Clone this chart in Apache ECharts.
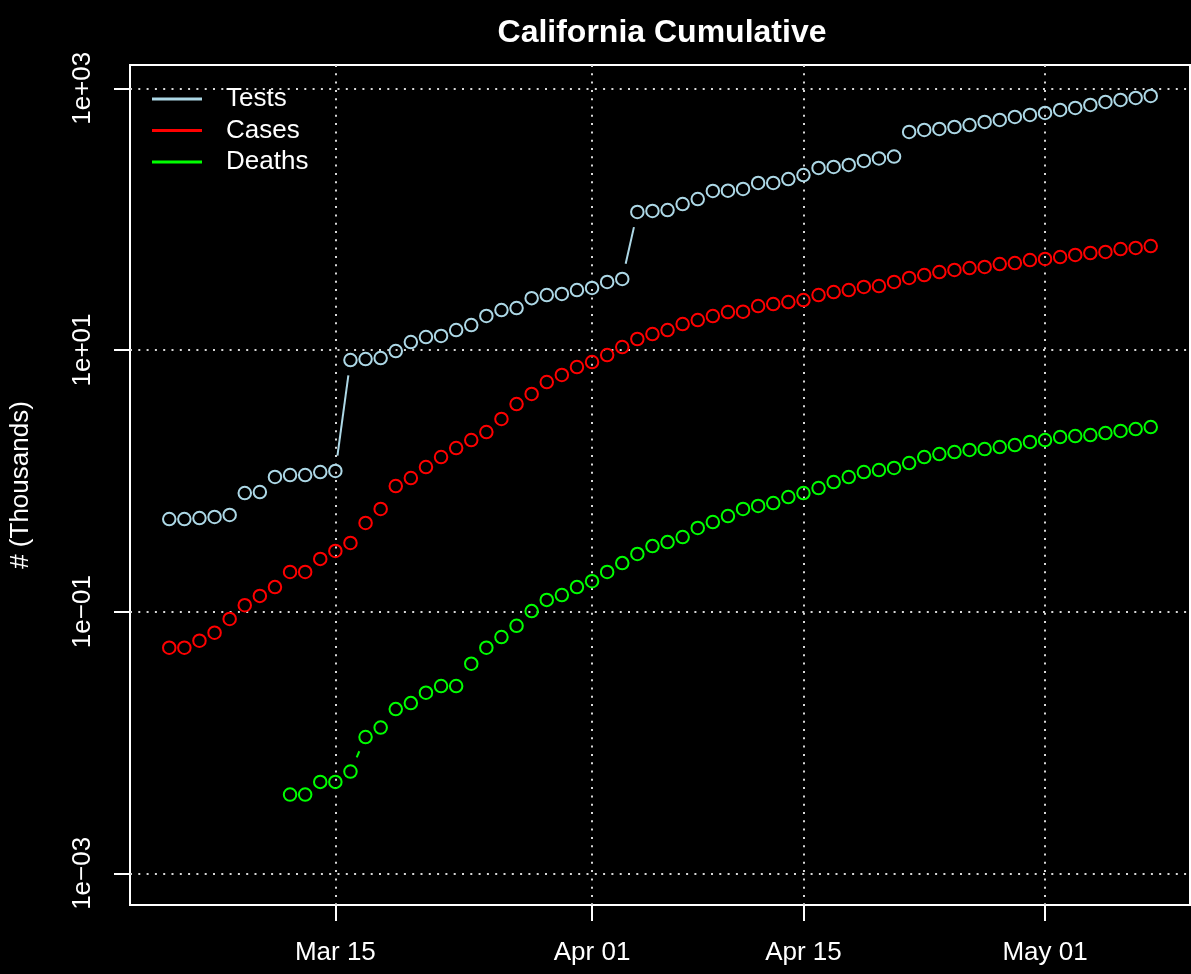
<!DOCTYPE html>
<html>
<head>
<meta charset="utf-8">
<title>California Cumulative</title>
<script src="https://cdn.jsdelivr.net/npm/echarts@6/dist/echarts.min.js"></script>
<style>
html, body { margin: 0; padding: 0; background: #000; }
#main { width: 1191px; height: 974px; }
</style>
</head>
<body>
<div id="main"></div>
<script>
// daily values, in thousands
var days = [
    '2020-03-04', '2020-03-05', '2020-03-06', '2020-03-07', '2020-03-08', '2020-03-09', '2020-03-10', '2020-03-11',
    '2020-03-12', '2020-03-13', '2020-03-14', '2020-03-15', '2020-03-16', '2020-03-17', '2020-03-18', '2020-03-19',
    '2020-03-20', '2020-03-21', '2020-03-22', '2020-03-23', '2020-03-24', '2020-03-25', '2020-03-26', '2020-03-27',
    '2020-03-28', '2020-03-29', '2020-03-30', '2020-03-31', '2020-04-01', '2020-04-02', '2020-04-03', '2020-04-04',
    '2020-04-05', '2020-04-06', '2020-04-07', '2020-04-08', '2020-04-09', '2020-04-10', '2020-04-11', '2020-04-12',
    '2020-04-13', '2020-04-14', '2020-04-15', '2020-04-16', '2020-04-17', '2020-04-18', '2020-04-19', '2020-04-20',
    '2020-04-21', '2020-04-22', '2020-04-23', '2020-04-24', '2020-04-25', '2020-04-26', '2020-04-27', '2020-04-28',
    '2020-04-29', '2020-04-30', '2020-05-01', '2020-05-02', '2020-05-03', '2020-05-04', '2020-05-05', '2020-05-06',
    '2020-05-07', '2020-05-08'
];

var tests = [
    0.510, 0.510, 0.519, 0.529, 0.548, 0.806, 0.821, 1.07, 1.107, 1.107, 1.167, 1.19,
    8.38, 8.53, 8.68, 9.82, 11.5, 12.56, 12.79, 14.2, 15.5, 18.2, 20.2, 20.9, 24.9, 26.3, 26.8, 28.7,
    29.8, 33.1, 34.9, 113.4, 115.4, 117.4, 130.5, 142.5, 164.1, 165, 170, 188.9, 188.9, 202.6, 217.4,
    246, 250.3, 259.3, 278.2, 290.7, 301, 463.5, 480, 488.6, 506, 524, 552.6, 572.4, 603.5, 625,
    647.5, 682.6, 707, 745.5, 786, 814, 843, 873.4
];

var cases = [
    0.053, 0.053, 0.060, 0.069, 0.088, 0.112, 0.132, 0.154, 0.201, 0.201, 0.253, 0.291,
    0.335, 0.476, 0.609, 0.912, 1.05, 1.275, 1.52, 1.78, 2.05, 2.36, 2.97, 3.86, 4.61, 5.69, 6.44, 7.41,
    8.09, 9.15, 10.53, 12.13, 13.24, 14.2, 15.79, 16.93, 18.18, 19.5, 19.6, 21.68, 22.45, 23.26, 24.09,
    26.3, 27.7, 28.7, 30.3, 30.8, 33.1, 35.5, 37.4, 39.4, 40.9, 42.3, 43.1, 45.4, 46.2, 48.7,
    49.6, 51.3, 53.2, 55.1, 56.1, 59.1, 60.2, 62.3
];

var deaths = [
    null, null, null, null, null, null, null, null, 0.004, 0.004, 0.005, 0.005,
    0.006, 0.011, 0.013, 0.018, 0.020, 0.024, 0.027, 0.027, 0.040, 0.053, 0.064, 0.078, 0.101, 0.123, 0.134, 0.154,
    0.171, 0.201, 0.235, 0.276, 0.317, 0.340, 0.372, 0.436, 0.484, 0.538, 0.609, 0.642, 0.676, 0.752, 0.806,
    0.881, 0.979, 1.069, 1.167, 1.209, 1.253, 1.368, 1.52, 1.602, 1.66, 1.72, 1.75, 1.813, 1.878, 1.98,
    2.05, 2.161, 2.2, 2.239, 2.319, 2.403, 2.488, 2.577
];

var seriesNames = ['Tests', 'Cases', 'Deaths'];
var seriesColors = ['#add8e6', '#ff0000', '#00ff00'];

var xTickDays = ['2020-03-15', '2020-04-01', '2020-04-15', '2020-05-01'];
var xTickLabels = ['Mar 15', 'Apr 01', 'Apr 15', 'May 01'];
var yTicks = [0.001, 0.1, 10, 1000];
var yTickLabels = ['1e\u221203', '1e\u221201', '1e+01', '1e+03'];

var DAY = 86400000;
var FONT = '"Liberation Sans", Arial, Helvetica, sans-serif';

function toTime(s) {
    var p = s.split('-');
    return new Date(+p[0], +p[1] - 1, +p[2]).getTime();
}

var times = days.map(toTime);
var xTickTimes = xTickDays.map(toTime);
// R pads the range by 4% on each side
var xPad = (times[times.length - 1] - times[0]) * 0.04;

function points(vals) {
    var out = [];
    for (var i = 0; i < vals.length; i++) {
        if (vals[i] != null) out.push([times[i], vals[i]]);
    }
    return out;
}

function segments(vals) {
    var out = [];
    for (var i = 1; i < vals.length; i++) {
        if (vals[i - 1] != null && vals[i] != null) {
            out.push([times[i - 1], vals[i - 1], times[i], vals[i]]);
        }
    }
    return out;
}

// type="b": line pieces only show where points are far apart
var GAP = 15.5;
function segmentRenderer(color) {
    return function (params, api) {
        var a = api.coord([api.value(0), api.value(1)]);
        var b = api.coord([api.value(2), api.value(3)]);
        var dx = b[0] - a[0], dy = b[1] - a[1];
        var len = Math.sqrt(dx * dx + dy * dy);
        if (len <= 2 * GAP) return null;
        var ux = dx / len, uy = dy / len;
        return {
            type: 'line',
            shape: {
                x1: a[0] + ux * GAP, y1: a[1] + uy * GAP,
                x2: b[0] - ux * GAP, y2: b[1] - uy * GAP
            },
            style: { stroke: color, lineWidth: 2 }
        };
    };
}

var allVals = [tests, cases, deaths];
var series = [];
for (var k = 0; k < 3; k++) {
    series.push({
        name: seriesNames[k] + ' line',
        type: 'custom',
        silent: true,
        renderItem: segmentRenderer(seriesColors[k]),
        encode: { x: [0, 2], y: [1, 3] },
        data: segments(allVals[k])
    });
    series.push({
        name: seriesNames[k],
        type: 'scatter',
        symbol: 'circle',
        symbolSize: 12.5,
        itemStyle: { color: 'rgba(0,0,0,0)', borderColor: seriesColors[k], borderWidth: 2, opacity: 1 },
        data: points(allVals[k])
    });
}

var gridLine = { show: true, lineStyle: { color: '#d8d8d8', width: 2, type: [2, 6.3] } };

var myChart = echarts.init(document.getElementById('main'));
var option = {
    backgroundColor: '#000',
    animation: false,
    title: {
        text: 'California Cumulative',
        left: 662,
        top: 17,
        padding: 0,
        textAlign: 'center',
        textStyle: { color: '#fff', fontSize: 32, fontWeight: 'bold', fontFamily: FONT }
    },
    legend: {
        orient: 'vertical',
        left: 152,
        top: 86,
        padding: 0,
        icon: 'rect',
        itemWidth: 50,
        itemHeight: 3,
        itemGap: 5.5,
        selectedMode: false,
        textStyle: { color: '#fff', fontSize: 26, lineHeight: 26, fontFamily: FONT, padding: [0, 0, 0, 19] },
        data: seriesNames.map(function (n, i) {
            return { name: n, itemStyle: { color: seriesColors[i], borderWidth: 0, opacity: 1 } };
        })
    },
    grid: {
        left: 130, right: 1, top: 65, bottom: 69,
        show: true, borderColor: '#fff', borderWidth: 2, backgroundColor: 'transparent'
    },
    xAxis: {
        type: 'value',
        min: times[0] - xPad,
        max: times[times.length - 1] + xPad,
        axisLine: { show: false },
        axisTick: { show: true, customValues: xTickTimes, length: 16, lineStyle: { color: '#fff', width: 2 } },
        axisLabel: {
            customValues: xTickTimes,
            color: '#fff', fontSize: 26, fontFamily: FONT, margin: 35,
            formatter: function (v) {
                for (var i = 0; i < xTickTimes.length; i++) {
                    if (Math.abs(v - xTickTimes[i]) < DAY / 2) return xTickLabels[i];
                }
                return '';
            }
        },
        splitLine: gridLine
    },
    yAxis: {
        type: 'log',
        logBase: 10,
        min: Math.pow(10, -3.242),
        max: Math.pow(10, 3.178),
        name: '# (Thousands)',
        nameLocation: 'middle',
        nameGap: 96,
        nameTextStyle: { color: '#fff', fontSize: 26, fontFamily: FONT },
        axisLine: { show: false },
        axisTick: { show: true, customValues: yTicks, length: 16, lineStyle: { color: '#fff', width: 2 } },
        axisLabel: {
            customValues: yTicks,
            rotate: 90,
            color: '#fff', fontSize: 26, fontFamily: FONT, margin: 34,
            formatter: function (v) {
                for (var i = 0; i < yTicks.length; i++) {
                    if (Math.abs(Math.log10(v) - Math.log10(yTicks[i])) < 1e-3) return yTickLabels[i];
                }
                return '';
            }
        },
        splitLine: gridLine
    },
    series: series
};
myChart.setOption(option);
</script>
</body>
</html>
